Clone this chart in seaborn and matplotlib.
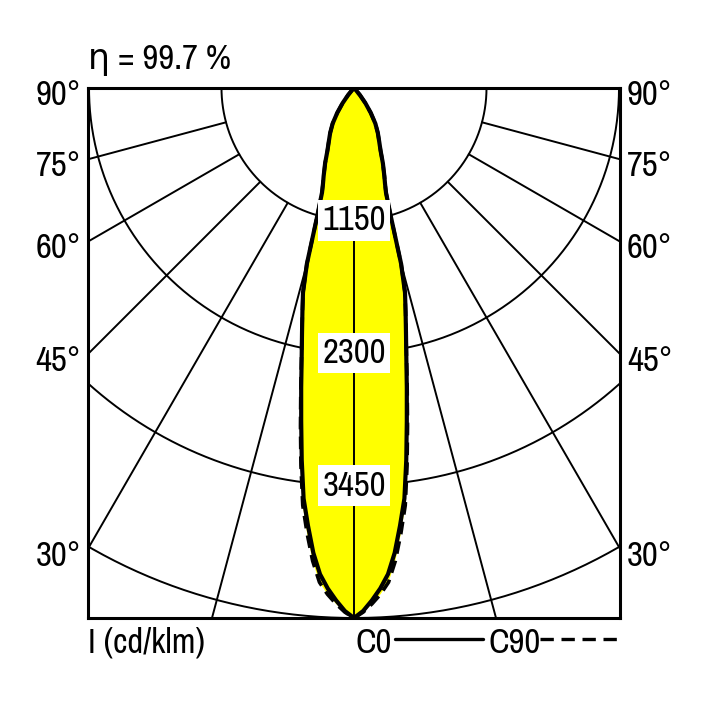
import numpy as np
import pandas as pd
import matplotlib.pyplot as plt
import seaborn as sns

# gamma angles (deg) and intensities in cd/klm
gamma = [0, 1, 2, 3, 4, 5, 6, 7, 8, 9, 10, 11, 12, 13, 14, 15, 16, 17, 18,
         19, 20, 21, 22, 23, 25, 28, 31, 34, 37, 40, 43, 45]
c0 = [4600, 4540, 4450, 4350, 4230, 4050, 3820, 3590, 3260, 2930, 2640, 2380,
      2170, 1990, 1830, 1580, 1160, 950, 870, 810, 750, 700, 640, 590, 520,
      440, 360, 260, 165, 80, 20, 0]
c90 = [4600, 4550, 4480, 4400, 4300, 4120, 3890, 3650, 3310, 2970, 2660, 2390,
       2170, 1990, 1830, 1580, 1160, 950, 870, 810, 750, 700, 640, 590, 520,
       440, 360, 260, 165, 80, 20, 0]

ring_values = [1150, 2300, 3450, 4600]
ring_labels = ['1150', '2300', '3450']
spoke_angles = [15, 30, 45, 60, 75]
side_angles = [30, 45, 60, 75, 90]
side_labels = ['30°', '45°', '60°', '75°', '90°']
eta_text = 'η = 99.7 %'
unit_text = 'I (cd/klm)'
legend_names = ['C0', 'C90']

R_MAX = 4600
HALF_W = R_MAX * 266 / 530
FS = 25


def to_xy(angles, values):
    """Mirror the half curve and turn polar values into x/y (down = 0°)."""
    a = np.radians(np.concatenate([-np.array(angles[::-1]), np.array(angles[1:])]))
    v = np.concatenate([np.array(values[::-1]), np.array(values[1:])])
    return pd.DataFrame({'x': v * np.sin(a), 'y': -v * np.cos(a)})


sns.set_style('white')
plt.rcParams['font.family'] = ['Archivo Narrow', 'DejaVu Sans']
plt.rcParams['text.color'] = 'black'

fig = plt.figure(figsize=(7.08, 7.08), dpi=100)
ax = fig.add_axes([88 / 708, 90 / 708, 532 / 708, 530 / 708])
ax.set_xlim(-HALF_W, HALF_W)
ax.set_ylim(-R_MAX, 0)

# grid: rings and spokes
t = np.linspace(0, np.pi, 400)
for r in ring_values:
    ax.plot(r * np.cos(t), -r * np.sin(t), color='black', lw=1.4, zorder=1)
for ang in spoke_angles:
    a = np.radians(ang)
    for s in (-1, 1):
        ax.plot([s * ring_values[0] * np.sin(a), s * 8000 * np.sin(a)],
                [-ring_values[0] * np.cos(a), -8000 * np.cos(a)],
                color='black', lw=1.4, zorder=1)

# light distribution curves
d0 = to_xy(gamma, c0)
d90 = to_xy(gamma, c90)
ax.fill(d90['x'], d90['y'], color='#ffff00', zorder=2, lw=0)
ax.fill(d0['x'], d0['y'], color='#ffff00', zorder=2, lw=0)
sns.lineplot(data=d90, x='x', y='y', sort=False, estimator=None, ax=ax,
             color='black', lw=2.6, zorder=3)
ax.lines[-1].set_dashes([3.5, 2])
sns.lineplot(data=d0, x='x', y='y', sort=False, estimator=None, ax=ax,
             color='black', lw=3.0, zorder=4)

# vertical 0° axis on top of the lobe
ax.plot([0, 0], [-ring_values[0], -R_MAX], color='black', lw=1.4, zorder=5)

for r, lab in zip(ring_values, ring_labels):
    ax.text(0, -r, lab, ha='center', va='center', fontsize=FS, zorder=6,
            bbox=dict(boxstyle='square,pad=0.12', fc='white', ec='none'))

# side angle labels
for ang, lab in zip(side_angles, side_labels):
    y = 0 if ang == 90 else -HALF_W / np.tan(np.radians(ang))
    y -= 60
    ax.text(-HALF_W - 60, y, lab, ha='right', va='center', fontsize=FS,
            clip_on=False)
    ax.text(HALF_W + 60, y, lab, ha='left', va='center', fontsize=FS,
            clip_on=False)

ax.text(0, 1.053, eta_text, transform=ax.transAxes, ha='left', va='center',
        fontsize=FS)
ax.text(0, -0.047, unit_text, transform=ax.transAxes, ha='left', va='center',
        fontsize=FS)

# legend under the box
ax.text(0.503, -0.047, legend_names[0], transform=ax.transAxes, ha='left',
        va='center', fontsize=FS)
ax.text(0.752, -0.047, legend_names[1], transform=ax.transAxes, ha='left',
        va='center', fontsize=FS)
ax.plot([0.578, 0.743], [-0.039, -0.039], transform=ax.transAxes, color='black',
        lw=2.4, clip_on=False)
ax.plot([0.85, 1.0], [-0.039, -0.039], transform=ax.transAxes, color='black',
        lw=2.4, clip_on=False, dashes=[4, 2.3])

ax.set_xticks([])
ax.set_yticks([])
ax.set_xlabel('')
ax.set_ylabel('')
for sp in ax.spines.values():
    sp.set_visible(True)
    sp.set_linewidth(2.2)
    sp.set_color('black')
    sp.set_zorder(7)

fig.savefig('out.png', dpi=100, facecolor='white')
plt.close(fig)
